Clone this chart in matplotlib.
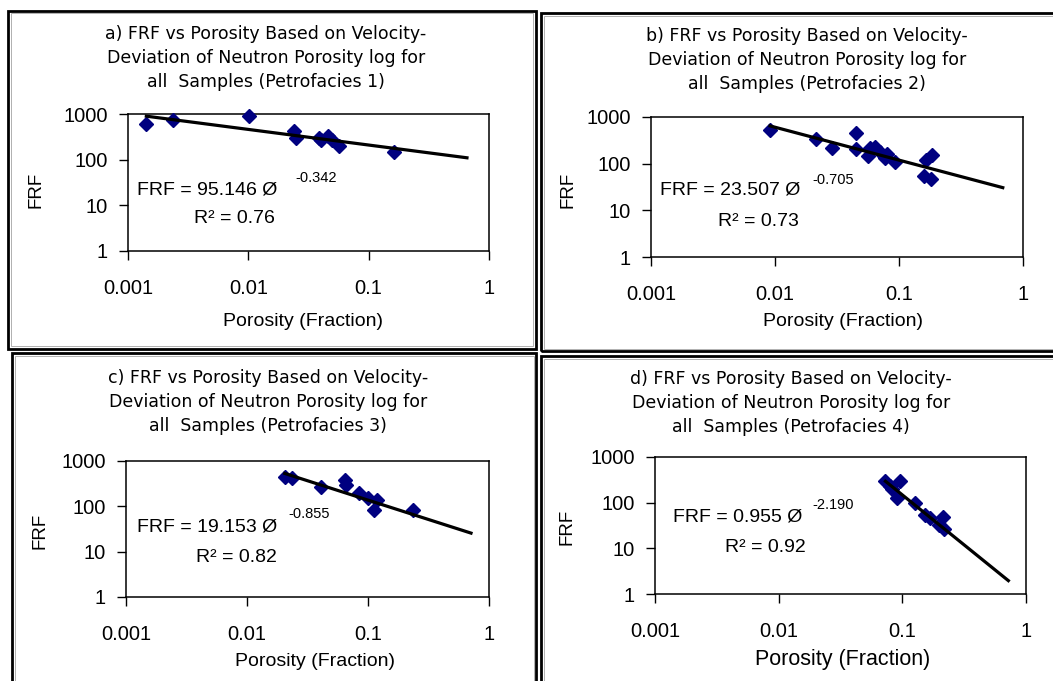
import matplotlib
matplotlib.use("Agg")
import matplotlib.pyplot as plt
from matplotlib.patches import Rectangle
from matplotlib.ticker import FixedLocator, FixedFormatter, NullLocator
import numpy as np

W, H = 1053, 681

# ---------------- data ----------------
por_a = [0.00142, 0.00236, 0.0102, 0.0240, 0.0248, 0.0388, 0.0405, 0.0455, 0.0500, 0.0569, 0.1615]
frf_a = [604, 740, 918, 425, 293, 293, 270, 335, 270, 202, 150]

por_b = [0.00912, 0.0214, 0.0286, 0.0454, 0.0449, 0.058, 0.056, 0.0637, 0.070, 0.0768, 0.0794,
         0.0925, 0.166, 0.184, 0.158, 0.182]
frf_b = [532, 340, 221, 452, 204, 215, 149, 233, 182, 131, 158, 107, 120, 151, 55, 48]

por_c = [0.0205, 0.0237, 0.0405, 0.0650, 0.0660, 0.085, 0.100, 0.118, 0.112, 0.235]
frf_c = [444, 420, 263, 375, 295, 200, 150, 136, 84, 84]

por_d = [0.0730, 0.0795, 0.0955, 0.0818, 0.091, 0.126, 0.152, 0.167, 0.212, 0.198, 0.218]
frf_d = [292, 227, 300, 202, 126, 98, 54, 46, 48, 33, 27]

fit_coef = [95.146, 23.507, 19.153, 0.955]
fit_exp = [-0.342, -0.705, -0.855, -2.190]
fit_end = [0.656, 0.687, 0.71, 0.72]
r2_vals = ["0.76", "0.73", "0.82", "0.92"]
coef_labels = ["95.146", "23.507", "19.153", "0.955"]
exp_labels = ["-0.342", "-0.705", "-0.855", "-2.190"]
panel_ids = ["a", "b", "c", "d"]

x_ticks = [0.001, 0.01, 0.1, 1]
x_ticklabels = ["0.001", "0.01", "0.1", "1"]
y_ticks = [1, 10, 100, 1000]
y_ticklabels = ["1", "10", "100", "1000"]

por_all = [por_a, por_b, por_c, por_d]
frf_all = [frf_a, frf_b, frf_c, frf_d]

# ---------------- layout (pixels) ----------------
# axes boxes: left, right, top, bottom
axes_px = [(128, 489, 114, 251), (651, 1023, 117, 257), (126, 489, 461, 597), (655, 1026, 457, 594)]
# panel frames: x0, y0, x1, y1
frames_px = [(8, 11, 536, 349), (541, 13, 1060, 351), (12, 353, 536, 690), (541, 356, 1060, 690)]
title_center = [(266, 58), (807, 60), (268, 402), (791, 403)]
xlabel_pos = [(303, 321), (843, 321), (315, 661), (843, 660)]
ylabel_pos = [(36, 190), (568, 190), (40, 531), (567, 527)]
eq_pos = [(0.025, 0.445), (0.024, 0.479), (0.030, 0.515), (0.049, 0.562)]
sup_pos = [(0.463, 0.530), (0.435, 0.547), (0.446, 0.607), (0.423, 0.646)]
r2_pos = [(0.183, 0.234), (0.180, 0.257), (0.193, 0.294), (0.189, 0.343)]

def fx(x):
    return x / W

def fy(y):
    return 1 - y / H

fig = plt.figure(figsize=(W / 100, H / 100), dpi=100)
fig.patch.set_facecolor("white")

main_font = "Liberation Sans"
title_font = "DejaVu Sans"

# panel frames
for (x0, y0, x1, y1) in frames_px:
    fig.patches.append(Rectangle((fx(x0), fy(y1)), fx(x1 - x0), (y1 - y0) / H,
                                 transform=fig.transFigure, fill=False,
                                 edgecolor="#000000", linewidth=2.0))
    fig.patches.append(Rectangle((fx(x0 + 2.5), fy(y1 - 2.5)), fx(x1 - x0 - 5), (y1 - y0 - 5) / H,
                                 transform=fig.transFigure, fill=False,
                                 edgecolor="#b0b0b0", linewidth=0.7))

for i in range(4):
    l, r, t, b = axes_px[i]
    ax = fig.add_axes([fx(l), fy(b), fx(r - l), (b - t) / H])
    ax.set_xscale("log")
    ax.set_yscale("log")
    ax.set_xlim(0.001, 1)
    ax.set_ylim(1, 1000)

    x = np.array(por_all[i])
    y = np.array(frf_all[i])
    ax.plot(x, y, linestyle="none", marker="D", markersize=7.5, color="#000080",
            markeredgecolor="#000080", zorder=3, clip_on=False)

    xl = np.geomspace(x.min(), fit_end[i], 100)
    ax.plot(xl, fit_coef[i] * xl ** fit_exp[i], color="black", linewidth=2.3, zorder=4,
            clip_on=False)

    ax.xaxis.set_major_locator(FixedLocator(x_ticks))
    ax.xaxis.set_major_formatter(FixedFormatter(x_ticklabels))
    ax.yaxis.set_major_locator(FixedLocator(y_ticks))
    ax.yaxis.set_major_formatter(FixedFormatter(y_ticklabels))
    ax.xaxis.set_minor_locator(NullLocator())
    ax.yaxis.set_minor_locator(NullLocator())
    ax.tick_params(axis="both", direction="out", length=6.5, width=1.0, color="black")
    ax.tick_params(axis="x", pad=14)
    ax.tick_params(axis="y", pad=8)
    for lab in ax.get_xticklabels() + ax.get_yticklabels():
        lab.set_fontfamily(main_font)
        lab.set_fontsize(14.5)
    for sp in ax.spines.values():
        sp.set_linewidth(1.1)
        sp.set_color("black")

    ax.text(eq_pos[i][0], eq_pos[i][1], "FRF = " + coef_labels[i] + " \u00d8",
            transform=ax.transAxes, fontsize=14, family=main_font, va="center", ha="left")
    ax.text(sup_pos[i][0], sup_pos[i][1], exp_labels[i],
            transform=ax.transAxes, fontsize=10.5, family=main_font, va="center", ha="left")
    ax.text(r2_pos[i][0], r2_pos[i][1], "R\u00b2 = " + r2_vals[i],
            transform=ax.transAxes, fontsize=14, family=main_font, va="center", ha="left")

    tx, ty = title_center[i]
    fig.text(fx(tx), fy(ty),
             panel_ids[i] + ") FRF vs Porosity Based on Velocity-\n"
             "Deviation of Neutron Porosity log for\n"
             "all  Samples (Petrofacies " + str(i + 1) + ")",
             ha="center", va="center", fontsize=12.5, family=title_font,
             linespacing=1.45)

    lx, ly = xlabel_pos[i]
    fig.text(fx(lx), fy(ly), "Porosity (Fraction)", ha="center", va="center",
             fontsize=14 if i < 3 else 15.5, family=main_font)
    yx, yy = ylabel_pos[i]
    fig.text(fx(yx), fy(yy), "FRF", ha="center", va="center", rotation=90,
             fontsize=13.5, family=main_font)

fig.savefig("out.png", dpi=100, facecolor="white")
